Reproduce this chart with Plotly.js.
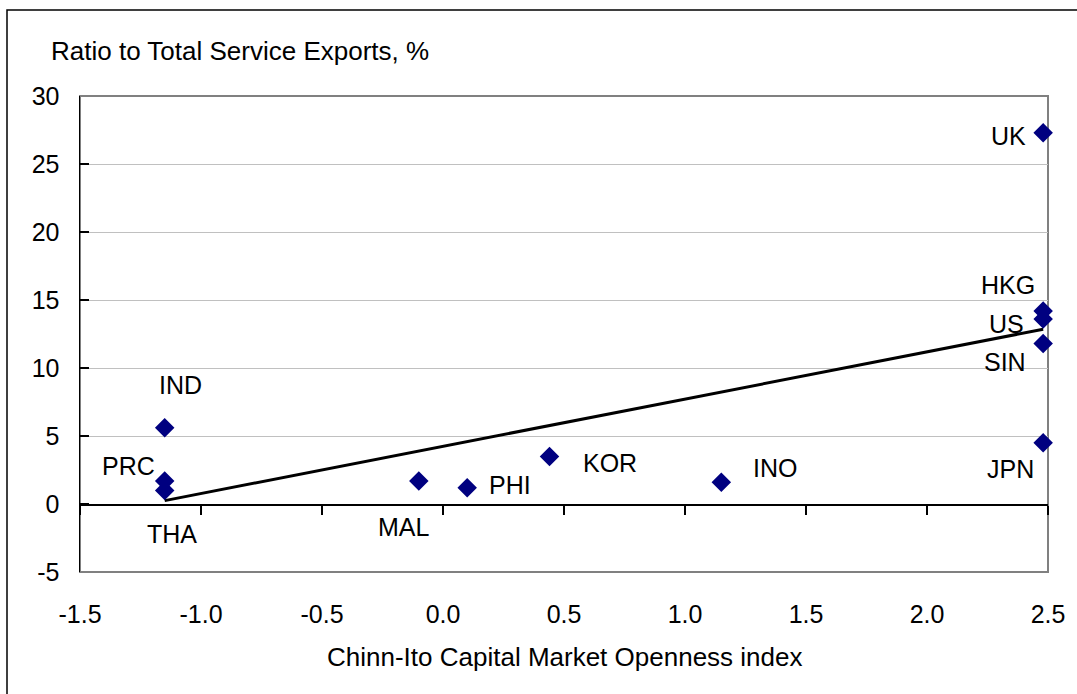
<!DOCTYPE html>
<html>
<head>
<meta charset="utf-8">
<script src="https://cdn.plot.ly/plotly-3.0.1.min.js"></script>
<style>
  html, body { margin: 0; padding: 0; background: #fff; }
  #chart { width: 1077px; height: 694px; }
</style>
</head>
<body>
<div id="chart"></div>
<script>
// ---- data ----
const countries = ['IND', 'PRC', 'THA', 'MAL', 'PHI', 'KOR', 'INO', 'UK', 'HKG', 'US', 'SIN', 'JPN'];
const openness  = [-1.15, -1.15, -1.15, -0.10, 0.10, 0.44, 1.15, 2.48, 2.48, 2.48, 2.48, 2.48];
const ratio     = [5.6, 1.7, 1.0, 1.7, 1.2, 3.5, 1.6, 27.3, 14.2, 13.6, 11.8, 4.5];
const trendX = [-1.15, 2.48];
const trendY = [0.25, 12.85];
const xTicks = [-1.5, -1.0, -0.5, 0.0, 0.5, 1.0, 1.5, 2.0, 2.5];
const xTickText = ['-1.5', '-1.0', '-0.5', '0.0', '0.5', '1.0', '1.5', '2.0', '2.5'];
const yTicks = [-5, 0, 5, 10, 15, 20, 25, 30];
const yTickText = ['-5', '0', '5', '10', '15', '20', '25', '30'];
const yTitle = 'Ratio to Total Service Exports, %';
const xTitle = 'Chinn-Ito Capital Market Openness index';

// ---- label placement (pixel offsets, styling only) ----
const labelOffsets = {
  IND: [16, -43], PRC: [-36, -15], THA: [7, 44], MAL: [-15, 46], PHI: [43, -3],
  KOR: [61, 7], INO: [54, -14], UK: [-35, 3], HKG: [-35, -26], US: [-37, 5],
  SIN: [-38, 18], JPN: [-33, 26]
};

const FONT = 'Liberation Sans, Arial, sans-serif';

const traces = [
  {
    x: trendX, y: trendY, type: 'scatter', mode: 'lines',
    line: { color: '#000000', width: 3 }, hoverinfo: 'skip', showlegend: false
  },
  {
    x: openness, y: ratio, type: 'scatter', mode: 'markers',
    marker: { symbol: 'diamond', size: 15, color: '#000080' },
    cliponaxis: false, showlegend: false, text: countries
  },
  { x: [xTicks[0]], y: [-100], xaxis: 'x2', yaxis: 'y', type: 'scatter', mode: 'markers',
    marker: { opacity: 0 }, hoverinfo: 'skip', showlegend: false }
];

const annotations = countries.map((c, i) => ({
  x: openness[i], y: ratio[i], xref: 'x', yref: 'y', text: c, showarrow: false,
  xshift: labelOffsets[c][0], yshift: -labelOffsets[c][1],
  font: { family: FONT, size: 25, color: '#000' }
}));
annotations.push({
  xref: 'paper', yref: 'paper', x: (49 - 80) / 968, y: (572 - 51) / 476,
  xanchor: 'left', yanchor: 'middle', text: yTitle, showarrow: false,
  font: { family: FONT, size: 26, color: '#000' }
});
annotations.push({
  xref: 'paper', yref: 'paper', x: 0.5, y: (572 - 657) / 476,
  xanchor: 'center', yanchor: 'middle', text: xTitle, showarrow: false,
  font: { family: FONT, size: 26, color: '#000' }
});

const layout = {
  width: 1077, height: 694,
  margin: { l: 80, r: 29, t: 96, b: 122 },
  paper_bgcolor: '#ffffff', plot_bgcolor: '#ffffff',
  showlegend: false,
  font: { family: FONT, size: 25, color: '#000' },
  xaxis: {
    range: [-1.5, 2.5], tickvals: xTicks, ticktext: xTickText,
    showgrid: false, zeroline: false, showline: false,
    ticks: 'outside', ticklen: 20, tickcolor: 'rgba(0,0,0,0)',
    tickfont: { family: FONT, size: 25, color: '#000' }, fixedrange: true
  },
  xaxis2: {
    overlaying: 'x', anchor: 'free', position: 5 / 35, range: [-1.5, 2.5],
    tickvals: xTicks, showticklabels: false, showgrid: false, zeroline: false,
    showline: true, linecolor: '#000', linewidth: 1.5,
    ticks: 'outside', ticklen: 9, tickcolor: '#000', tickwidth: 1.5
  },
  yaxis: {
    range: [-5, 30], tickvals: yTicks, ticktext: yTickText,
    showgrid: true, gridcolor: '#c0c0c0', gridwidth: 1, zeroline: false,
    showline: true, linecolor: '#000', linewidth: 1.5,
    ticks: 'inside', ticklen: 9, tickcolor: '#000', tickwidth: 1.5,
    ticklabelstandoff: 14,
    tickfont: { family: FONT, size: 25, color: '#000' }, fixedrange: true
  },
  shapes: [
    { type: 'rect', xref: 'paper', yref: 'paper', x0: 0, x1: 1, y0: 0, y1: 1,
      line: { color: '#808080', width: 2 }, layer: 'between' },
    { type: 'rect', xref: 'paper', yref: 'paper',
      x0: (7 - 80) / 968, x1: 1.1, y0: -0.4, y1: (572 - 10) / 476,
      line: { color: '#000', width: 1.5 }, layer: 'below' }
  ],
  annotations: annotations
};

Plotly.newPlot('chart', traces, layout, { displayModeBar: false, staticPlot: true });
</script>
</body>
</html>
